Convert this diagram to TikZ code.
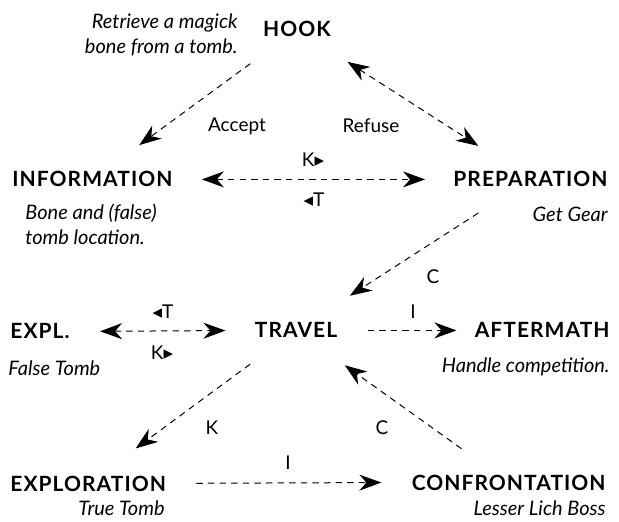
\documentclass[tikz,border=0pt]{standalone}
\usepackage{fontspec}
\setmainfont{Lato}
\newfontfamily\headfont[LetterSpace=5]{Lato}
\newfontfamily\symfont{DejaVu Sans}
\usetikzlibrary{arrows.meta}

\begin{document}
\begin{tikzpicture}[x=0.5pt,y=-0.5pt,
    font=\fontsize{9.5}{11.5}\selectfont,
    >={Stealth[length=11pt,width=8pt,inset=3.5pt]},
    head/.style={font=\fontsize{10.5}{12}\selectfont\headfont\bfseries,inner sep=0pt},
    desc/.style={font=\fontsize{10}{12.5}\selectfont\itshape,inner sep=0pt},
    lbl/.style={inner sep=0pt},
    link/.style={dash pattern=on 3.2pt off 2.6pt,line width=0.5pt}]
    \useasboundingbox (0,0) rectangle (619,522);
    % headings
    \node[head,anchor=base] (hook) at (297,37) {HOOK};
    \node[head,anchor=base west] (info) at (12,187) {INFORMATION};
    \node[head,anchor=base east] (prep) at (608,187) {PREPARATION};
    \node[head,anchor=base west] (expl) at (10,339) {EXPL.};
    \node[head,anchor=base] (travel) at (296,338) {TRAVEL};
    \node[head,anchor=base east] (after) at (610,338) {AFTERMATH};
    \node[head,anchor=base west] (explo) at (10,491) {EXPLORATION};
    \node[head,anchor=base east] (confr) at (606,490) {CONFRONTATION};
    % descriptions
    \node[desc,align=right,anchor=north east] (hookdesc) at (238,13) {Retrieve a magick\\bone from a tomb.};
    \node[desc,align=left,anchor=north west] (infodesc) at (25,204) {Bone and (false)\\tomb location.};
    \node[desc,anchor=base east] (prepdesc) at (608,222) {Get Gear};
    \node[desc,anchor=base west] (expldesc) at (8,376) {False Tomb};
    \node[desc,anchor=base east] (afterdesc) at (610,372) {Handle competition.};
    \node[desc,anchor=base east] (explodesc) at (165,515) {True Tomb};
    \node[desc,anchor=base east] (confrdesc) at (606,515) {Lesser Lich Boss};
    % connectors
    \draw[link,->,shorten <=29pt,shorten >=29pt] (hook.center) -- (info.center);
    \draw[link,<->,shorten <=30pt,shorten >=31pt] (hook.center) -- (prep.center);
    \draw[link,<->,shorten <=14.5pt,shorten >=14pt] (info.east) -- (prep.west);
    \draw[link,->,shorten <=31pt,shorten >=32pt] (prep.center) -- (travel.center);
    \draw[link,<->,shorten <=15pt,shorten >=14.5pt] (expl.east) -- (travel.west);
    \draw[link,->,shorten <=15pt,shorten >=9pt] (travel.east) -- (after.west);
    \draw[link,->,shorten <=28.5pt,shorten >=29.5pt] (travel.center) -- (explo.center);
    \draw[link,->,shorten <=29pt,shorten >=30pt] (confr.center) -- (travel.center);
    \draw[link,->,shorten <=15pt,shorten >=15pt] (explo.east) -- (confr.west);
    % labels
    \node[lbl] (accept) at (237,126) {Accept};
    \node[lbl] (refuse) at (371,126) {Refuse};
    \node[lbl] (infoK) at (313,160) {K{\symfont ▸}};
    \node[lbl] (infoT) at (314,200) {{\symfont ◂}T};
    \node[lbl] (prepC) at (433,277) {C};
    \node[lbl] (explT) at (163,312) {{\symfont ◂}T};
    \node[lbl] (explK) at (162,353) {K{\symfont ▸}};
    \node[lbl] (afterI) at (413,312) {I};
    \node[lbl] (exploK) at (212,428) {K};
    \node[lbl] (confrC) at (382,428) {C};
    \node[lbl] (exploI) at (288,463) {I};
\end{tikzpicture}
\end{document}
